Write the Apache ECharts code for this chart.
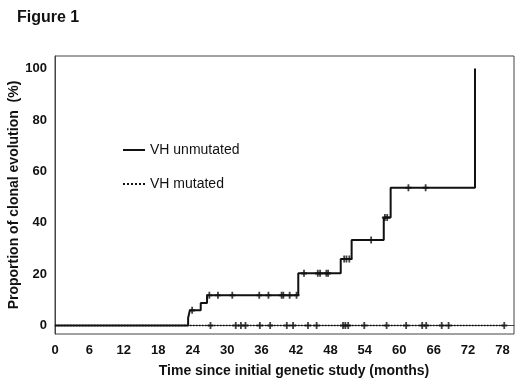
<!DOCTYPE html>
<html>
<head>
<meta charset="utf-8">
<script src="https://cdn.jsdelivr.net/npm/echarts@6/dist/echarts.min.js"></script>
<style>
  html, body { margin: 0; padding: 0; background: #fff; }
  #chart { width: 520px; height: 380px; }
</style>
</head>
<body>
<div id="chart"></div>
<script>
var chart = echarts.init(document.getElementById('chart'));

// step curve, VH unmutated: [month, % clonal evolution]
var unmutatedSteps = [
    [0, 0], [23.2, 2.9], [23.5, 5.9], [25.4, 8.8], [26.5, 11.8],
    [42.4, 20.3], [49.8, 25.9], [51.7, 33.3], [57.3, 42.0], [58.5, 53.6], [73.2, 100]
];
// censored patients (months)
var unmutatedCensor = [23.9, 26.9, 28.4, 30.9, 35.6, 37.2, 39.5, 39.8, 40.9, 42.1,
    43.4, 45.8, 46.2, 47.3, 47.6, 50.4, 50.8, 51.3, 55.1, 57.5, 57.9, 61.6, 64.6];

var mutatedSteps = [[0, 0], [78.3, 0]];
var mutatedCensor = [27.1, 31.5, 32.4, 33.2, 35.7, 37.5, 40.4, 41.5, 44.1, 45.6,
    50.2, 50.6, 51.1, 53.9, 57.8, 61.2, 64.0, 64.7, 67.4, 68.6, 78.3];

var xTicks = [0, 6, 12, 18, 24, 30, 36, 42, 48, 54, 60, 66, 72, 78];
var yTicks = [0, 20, 40, 60, 80, 100];

// level of the step curve at time t
function levelAt(steps, t) {
    var v = 0;
    for (var i = 0; i < steps.length; i++) {
        if (steps[i][0] <= t) v = steps[i][1];
    }
    return v;
}

var plusMark = 'path://M3.5,0H6.5V3.5H10V6.5H6.5V10H3.5V6.5H0V3.5H3.5Z';
var font = 'Liberation Sans, Arial, sans-serif';

option = {
    animation: false,
    backgroundColor: '#fff',
    title: {
        text: 'Figure 1',
        left: 12,
        top: 5,
        textStyle: {
            fontFamily: font,
            fontSize: 16,
            fontWeight: 'bold',
            color: '#111'
        }
    },
    legend: {
        orient: 'vertical',
        left: 117,
        top: 138,
        itemWidth: 22,
        itemHeight: 14,
        itemGap: 20,
        itemStyle: { opacity: 0 },
        textStyle: {
            fontFamily: font,
            fontSize: 14,
            color: '#111'
        },
        data: ['VH unmutated', 'VH mutated']
    },
    grid: {
        left: 55,
        right: 6,
        top: 56,
        bottom: 46,
        show: true,
        borderColor: '#444',
        borderWidth: 1,
        containLabel: false,
        outerBoundsMode: 'none'
    },
    xAxis: {
        type: 'value',
        min: 0,
        max: 80,
        name: 'Time since initial genetic study (months)',
        nameLocation: 'middle',
        nameGap: 30,
        nameMoveOverlap: false,
        nameTextStyle: {
            fontFamily: font,
            fontSize: 14,
            fontWeight: 'bold',
            color: '#111',
            padding: [0, 0, 0, 19]
        },
        axisLine: { show: true, lineStyle: { color: '#444' } },
        axisTick: { show: false },
        splitLine: { show: false },
        axisLabel: {
            customValues: xTicks,
            margin: 10,
            fontFamily: font,
            fontSize: 13,
            fontWeight: 'bold',
            color: '#111'
        }
    },
    yAxis: {
        type: 'value',
        min: -3.3,
        max: 104.9,
        name: 'Proportion of clonal evolution  (%)',
        nameLocation: 'middle',
        nameGap: 34,
        nameMoveOverlap: false,
        nameTextStyle: {
            fontFamily: font,
            fontSize: 14,
            fontWeight: 'bold',
            color: '#111'
        },
        axisLine: { show: true, lineStyle: { color: '#444' } },
        axisTick: { show: false },
        splitLine: { show: false },
        axisLabel: {
            customValues: yTicks,
            margin: 8,
            fontFamily: font,
            fontSize: 13,
            fontWeight: 'bold',
            color: '#111'
        }
    },
    series: [
        {
            name: 'VH unmutated',
            type: 'line',
            step: 'end',
            symbol: 'none',
            lineStyle: { color: '#111', width: 2 },
            itemStyle: { color: '#111' },
            data: unmutatedSteps
        },
        {
            name: 'VH mutated',
            type: 'line',
            symbol: 'none',
            z: 3,
            lineStyle: { color: '#111', width: 1.5, type: 'dotted' },
            itemStyle: { color: '#111' },
            data: mutatedSteps
        },
        {
            name: 'censor-unmutated',
            type: 'scatter',
            symbol: plusMark,
            symbolSize: [6, 7],
            itemStyle: { color: '#111' },
            data: unmutatedCensor.map(function (t) { return [t, levelAt(unmutatedSteps, t)]; })
        },
        {
            name: 'censor-mutated',
            type: 'scatter',
            symbol: plusMark,
            symbolSize: [6, 7],
            itemStyle: { color: '#111' },
            data: mutatedCensor.map(function (t) { return [t, levelAt(mutatedSteps, t)]; })
        }
    ]
};

chart.setOption(option);
</script>
</body>
</html>
